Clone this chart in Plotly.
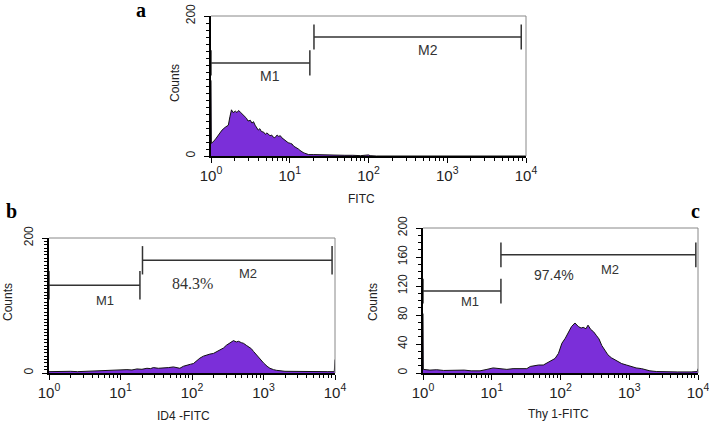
import numpy as np
import plotly.graph_objects as go

# ---------------- data (x in decades: log10 of fluorescence) ----------------
a_log = [0, 0.005, 0.05, 0.09, 0.14, 0.18, 0.22, 0.24, 0.26, 0.28, 0.31, 0.33, 0.35, 0.37,
         0.39, 0.41, 0.43, 0.45, 0.47, 0.50, 0.52, 0.54, 0.56, 0.58, 0.60, 0.62, 0.64, 0.67,
         0.69, 0.71, 0.73, 0.75, 0.77, 0.79, 0.81, 0.84, 0.86, 0.88, 0.90, 0.92, 0.94, 0.96,
         0.98, 1.01, 1.03, 1.05, 1.07, 1.09, 1.11, 1.13, 1.15, 1.17, 1.19, 1.22, 1.24, 1.30,
         1.40, 1.50, 1.60, 1.70, 1.80, 1.90, 2.00, 2.02, 2.10, 3.00, 4.00]
a_counts = [108, 18, 23, 30, 37, 41, 44, 56, 66, 62, 64, 62, 65, 63,
            61, 59, 56, 54, 50, 51, 47, 49, 44, 40, 37, 39, 35, 34,
            31, 33, 31, 29, 30, 27, 26, 30, 28, 29, 26, 24, 22, 21,
            19, 18, 17, 14, 13, 11, 10, 8, 6, 5, 4, 3, 2, 2,
            1.5, 1, 1.5, 1, 1, 0.5, 1.5, 0.5, 0, 0, 0]

b_log = [0, 0.1, 0.2, 0.3, 0.4, 0.5, 0.6, 0.7, 0.8, 0.9, 0.99, 1.09, 1.16, 1.23, 1.30, 1.37,
         1.42, 1.46, 1.53, 1.60, 1.67, 1.74, 1.80, 1.83, 1.88, 1.93, 1.98, 2.02, 2.06, 2.11,
         2.16, 2.21, 2.25, 2.30, 2.35, 2.39, 2.44, 2.48, 2.53, 2.58, 2.62, 2.65, 2.69, 2.72,
         2.76, 2.79, 2.83, 2.86, 2.90, 2.95, 3.00, 3.05, 3.09, 3.14, 3.18, 3.30, 3.50, 3.70,
         3.90, 3.99, 3.995, 4.0]
b_counts = [2, 2.5, 2, 2.5, 2, 2.5, 3, 3, 3.5, 4, 4.5, 5, 4.5, 6, 5.5, 7,
            6.5, 8, 7, 7, 8, 9, 8, 7, 10, 12, 13, 14, 18, 22,
            25, 27, 28, 29, 32, 34, 37, 41, 44, 48, 46, 47, 45, 44,
            41, 39, 36, 32, 27, 20, 15, 10, 7, 5, 4, 2.5, 2, 2,
            2, 2, 20, 20]

c_log = [0, 0.005, 0.1, 0.2, 0.3, 0.4, 0.5, 0.6, 0.7, 0.83, 0.93, 1.02, 1.12, 1.22, 1.31,
         1.41, 1.51, 1.56, 1.61, 1.68, 1.75, 1.80, 1.85, 1.92, 1.97, 2.02, 2.07, 2.11, 2.16,
         2.21, 2.26, 2.30, 2.33, 2.37, 2.40, 2.44, 2.48, 2.52, 2.56, 2.60, 2.65, 2.69, 2.74,
         2.79, 2.84, 2.89, 2.96, 3.03, 3.10, 3.18, 3.24, 3.30, 3.40, 3.50, 3.70, 3.90, 3.99, 4.0]
c_counts = [82, 5, 4, 4.5, 3.5, 4, 3.5, 4, 3, 3, 5, 7, 6, 5, 6,
            5.5, 6, 9, 10, 11, 11, 14, 16, 20, 27, 41, 48, 55, 64,
            69, 64, 62, 63, 61, 66, 60, 57, 52, 47, 38, 30, 25, 21,
            18, 15, 13, 11, 9, 7, 6, 4, 3, 2, 1.5, 1.5, 1.5, 2, 6]

# gates: (name, low, high, level)
a_gates = [("M1", 1, 18, 133), ("M2", 20.3, 8700, 170)]
b_gates = [("M1", 1, 18.7, 130), ("M2", 20.3, 9100, 167)]
c_gates = [("M1", 1, 13.6, 113), ("M2", 13.6, 9300, 163)]

x_ticks = [1, 10, 100, 1000, 10000]
x_ticktext = ["10<sup>0</sup>", "10<sup>1</sup>", "10<sup>2</sup>", "10<sup>3</sup>", "10<sup>4</sup>"]
minor_x = [k * 10 ** d for d in range(4) for k in range(2, 10)]

W, H = 709, 424
FILL = "#7B2FD9"
SANS = "Liberation Sans, Arial, sans-serif"
SERIF = "Liberation Serif, Times New Roman, serif"


def px(x):
    return x / W


def py(y):
    return 1 - y / H


fig = go.Figure()

panels = [
    dict(n="", log=a_log, cnt=a_counts, gates=a_gates, tick=18,
         xd=[211, 526], yd=[16, 156], yt=[0, 200], ydt=10),
    dict(n="2", log=b_log, cnt=b_counts, gates=b_gates, tick=21,
         xd=[49, 335], yd=[238, 373], yt=[0, 200], ydt=5),
    dict(n="3", log=c_log, cnt=c_counts, gates=c_gates, tick=17,
         xd=[423, 698], yd=[228, 373], yt=[0, 40, 80, 120, 160, 200], ydt=10),
]

layout_axes = {}
shapes = []
for p in panels:
    xa = "x" + p["n"]
    ya = "y" + p["n"]
    xvals = (10 ** np.array(p["log"])).tolist()
    fig.add_trace(go.Scatter(x=xvals, y=p["cnt"], xaxis=xa, yaxis=ya, mode="lines",
                             line=dict(color="#111111", width=1), fill="tozeroy",
                             fillcolor=FILL, hoverinfo="skip"))
    for name, lo, hi, lev in p["gates"]:
        h = p["tick"]
        gx = [lo, lo, None, lo, hi, None, hi, hi]
        gy = [lev - h, lev + h, None, lev, lev, None, lev - h, lev + h]
        fig.add_trace(go.Scatter(x=gx, y=gy, xaxis=xa, yaxis=ya, mode="lines",
                                 line=dict(color="#333333", width=1.5), hoverinfo="skip"))
    layout_axes["xaxis" + p["n"]] = dict(
        domain=[px(p["xd"][0]), px(p["xd"][1])], anchor=ya, type="log", range=[0, 4],
        automargin=False, ticklabeloverflow="allow",
        showline=True, linecolor="black", linewidth=1.5, showgrid=False, zeroline=False,
        tickmode="array", tickvals=x_ticks, ticktext=x_ticktext, ticks="outside",
        ticklen=5, tickwidth=1, tickcolor="black",
        tickfont=dict(family=SANS, size=15, color="#222"),
        minor=dict(tickmode="array", tickvals=minor_x, ticks="outside", ticklen=3,
                   tickcolor="black", tickwidth=1, showgrid=False))
    layout_axes["yaxis" + p["n"]] = dict(
        domain=[py(p["yd"][1]), py(p["yd"][0])], anchor=xa, range=[0, 200],
        automargin=False, ticklabeloverflow="allow",
        showline=True, linecolor="black", linewidth=1.5, showgrid=False, zeroline=False,
        tickmode="array", tickvals=p["yt"], ticks="outside", ticklen=5, tickwidth=1,
        tickcolor="black", tickangle=-90, ticklabelstandoff=4,
        tickfont=dict(family=SANS, size=12, color="#222"),
        minor=dict(dtick=p["ydt"], ticks="outside", ticklen=3, tickcolor="black",
                   tickwidth=1, showgrid=False))
    xr = xa + " domain"
    yr = ya + " domain"
    shapes.append(dict(type="line", xref=xr, yref=yr, x0=0, x1=1, y0=1, y1=1,
                       line=dict(color="#888888", width=1)))
    shapes.append(dict(type="line", xref=xr, yref=yr, x0=1, x1=1, y0=0, y1=1,
                       line=dict(color="#888888", width=1)))

ann = []


def txt(x, y, s, size, family=SANS, angle=0, bold=False, color="#222"):
    ann.append(dict(x=px(x), y=py(y), xref="paper", yref="paper", text=("<b>%s</b>" % s) if bold else s,
                    showarrow=False, textangle=angle, xanchor="center", yanchor="middle",
                    font=dict(family=family, size=size, color=color)))


def dtxt(n, lx, cy, s, size, family=SANS):
    ann.append(dict(x=lx, y=cy, xref="x" + n, yref="y" + n, text=s, showarrow=False,
                    xanchor="center", yanchor="middle",
                    font=dict(family=family, size=size, color="#333")))


# panel letters
txt(141, 10, "a", 20, SERIF, bold=True, color="black")
txt(11, 211, "b", 20, SERIF, bold=True, color="black")
txt(695, 211, "c", 20, SERIF, bold=True, color="black")
# axis titles
txt(175, 83, "Counts", 12, angle=-90)
txt(8, 302, "Counts", 12, angle=-90)
txt(373, 302, "Counts", 12, angle=-90)
txt(361, 199, "FITC", 12)
txt(183, 416, "ID4 -FITC", 12)
txt(558, 414, "Thy 1-FITC", 12)
# gate labels (x in decades)
dtxt("", 0.75, 114, "M1", 14)
dtxt("", 2.76, 151, "M2", 14)
dtxt("2", 0.78, 108, "M1", 13)
dtxt("2", 2.78, 147, "M2", 13)
dtxt("2", 2.0, 133, "84.3%", 16, SERIF)
dtxt("3", 0.68, 98, "M1", 13)
dtxt("3", 2.72, 143, "M2", 13)
dtxt("3", 1.91, 135, "97.4%", 14)

fig.update_layout(width=W, height=H, margin=dict(l=0, r=0, t=0, b=0, autoexpand=False),
                  paper_bgcolor="white", plot_bgcolor="white", showlegend=False,
                  annotations=ann, shapes=shapes, **layout_axes)
fig.write_html("out.html", config={"displayModeBar": False},
               post_script="document.body.style.margin='0px';")
